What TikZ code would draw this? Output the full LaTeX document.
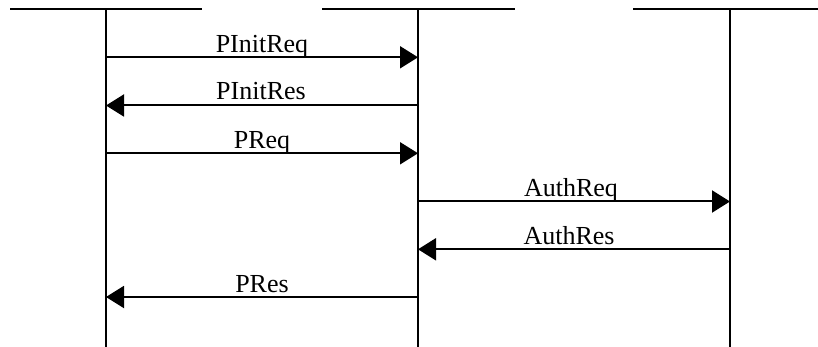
\documentclass[tikz,border=0pt]{standalone}
\usepackage{fontspec}
\setmainfont{Liberation Serif}
\usetikzlibrary{arrows.meta}
\begin{document}
\begin{tikzpicture}[x=1pt,y=-1pt,
  ln/.style={line width=2pt,black},
  msg/.style={line width=2pt,-{Triangle[length=18pt,width=22pt]}},
  lbl/.style={anchor=base,inner sep=0pt,font=\fontsize{26}{30}\selectfont}]
\useasboundingbox (0,0) rectangle (818,347);
% lifeline heads
\coordinate (h1a) at (10,9.5);  \coordinate (h1b) at (202,9.5);
\coordinate (h2a) at (322,9.5); \coordinate (h2b) at (515,9.5);
\coordinate (h3a) at (633,9.5); \coordinate (h3b) at (818,9.5);
\coordinate (t1) at (106,9.5);  \coordinate (b1) at (106,347);
\coordinate (t2) at (418,9.5);  \coordinate (b2) at (418,347);
\coordinate (t3) at (730,9.5);  \coordinate (b3) at (730,347);
\draw[ln] (h1a) -- (h1b);
\draw[ln] (h2a) -- (h2b);
\draw[ln] (h3a) -- (h3b);
\draw[ln] (t1) -- (b1);
\draw[ln] (t2) -- (b2);
\draw[ln] (t3) -- (b3);
% message points
\foreach \n/\y in {a/57.3,b/105.5,c/153.3,d/201.5,e/249.3,f/297}{
  \coordinate (l1\n) at (106,\y);
  \coordinate (l2\n) at (418,\y);
  \coordinate (l3\n) at (730,\y);
}
\draw[msg] (l1a) -- (l2a) node[lbl,midway,yshift=4.5pt] (m1) {PInitReq};
\draw[msg] (l2b) -- (l1b) node[lbl,midway,yshift=5.5pt,xshift=-1pt] (m2) {PInitRes};
\draw[msg] (l1c) -- (l2c) node[lbl,midway,yshift=5pt] (m3) {PReq};
\draw[msg] (l2d) -- (l3d) node[lbl,midway,yshift=5pt,xshift=-3pt] (m4) {AuthReq};
\draw[msg] (l3e) -- (l2e) node[lbl,midway,yshift=5pt,xshift=-5pt] (m5) {AuthRes};
\draw[msg] (l2f) -- (l1f) node[lbl,midway,yshift=5pt] (m6) {PRes};
\end{tikzpicture}
\end{document}
